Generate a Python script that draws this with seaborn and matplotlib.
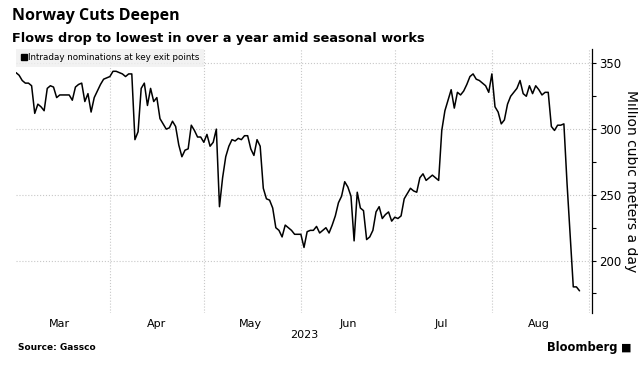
import pandas as pd
import matplotlib.pyplot as plt
import matplotlib.dates as mdates
from matplotlib.ticker import MultipleLocator
from matplotlib.lines import Line2D
import seaborn as sns

# Daily intraday nominations at key exit points (mcm/d)
start_date = "2023-03-02"
flows = [
    343, 341, 337, 335, 335, 333, 312, 319, 317, 314, 331, 333, 332, 324, 326,
    326, 326, 326, 322, 332, 334, 335, 321, 327, 313, 324, 329, 334, 338, 339,
    340, 344, 344, 343, 342, 340, 342,
    342, 292, 298, 331, 335, 318, 331, 321, 324, 308, 304, 300, 301, 306, 302,
    288, 279, 284, 285, 303, 299, 294, 294, 290, 296, 287, 290, 300, 241, 263,
    279, 287, 292, 291, 293, 292, 295, 295,
    285, 280, 292, 287, 255, 247, 246, 240, 225, 223, 218, 227, 225, 223, 220,
    220, 220, 210, 222, 223, 223, 226, 221, 223, 225, 221, 227, 234, 244, 249,
    260, 256, 249, 215,
    252, 240, 238, 216, 218, 223, 237, 241, 232, 235, 237, 230, 233, 232, 234,
    247, 251, 255, 253, 252, 263, 266, 261, 263, 265, 263, 261, 299, 314, 322,
    330, 316, 328, 326, 329, 334, 340, 342, 338,
    337, 335, 333, 328, 342, 317, 313, 304, 307, 319, 325, 328, 331, 337, 327,
    325, 333, 327, 333, 330, 326, 328, 328, 302, 299, 303, 303, 304, 259, 220,
    180, 180, 177,
]
series_label = "Intraday nominations at key exit points"
y_ticks = [200, 250, 300, 350]

df = pd.DataFrame({
    "date": pd.date_range(start_date, periods=len(flows), freq="D"),
    "flow": flows,
})

sns.set_theme(style="white")
plt.rcParams["font.family"] = ["DejaVu Sans"]
plt.rcParams["text.color"] = "black"
plt.rcParams["axes.labelcolor"] = "black"
plt.rcParams["xtick.color"] = "black"
plt.rcParams["ytick.color"] = "black"

fig = plt.figure(figsize=(6.38, 3.68), dpi=100)
ax = fig.add_axes([0.025, 0.149, 0.903, 0.718])

sns.lineplot(data=df, x="date", y="flow", color="black", linewidth=1.1, ax=ax)

# axes limits and ticks
ax.set_xlim(pd.Timestamp("2023-03-02"), pd.Timestamp("2023-09-02"))
ax.set_ylim(160, 361)
ax.yaxis.tick_right()
ax.yaxis.set_label_position("right")
ax.set_yticks(y_ticks)
ax.yaxis.set_minor_locator(MultipleLocator(25))
ax.tick_params(axis="y", which="both", direction="out", length=3, width=0.8,
               color="black", labelsize=8.5, pad=2, left=False, right=True)
ax.set_ylabel("Million cubic meters a day", rotation=-90, labelpad=12, fontsize=10)

ax.xaxis.set_major_locator(mdates.MonthLocator())
ax.xaxis.set_major_formatter(plt.NullFormatter())
ax.xaxis.set_minor_locator(mdates.MonthLocator(bymonthday=16))
ax.xaxis.set_minor_formatter(mdates.DateFormatter("%b"))
ax.tick_params(axis="x", which="both", length=0, labelsize=8, pad=4)
ax.set_xlabel("2023", fontsize=8, labelpad=1)

ax.grid(True, which="major", color="#c8c8c8", linestyle=":", linewidth=0.8)
for side in ["left", "top", "bottom"]:
    ax.spines[side].set_visible(False)
ax.spines["right"].set_color("black")
ax.spines["right"].set_linewidth(0.9)

# legend with a square marker
handle = Line2D([], [], marker="s", color="black", linestyle="none", markersize=4.5)
leg = ax.legend([handle], [series_label], loc="upper left", fontsize=6.3,
                frameon=True, fancybox=False, handletextpad=0.1,
                borderaxespad=0.0, borderpad=0.5, handlelength=0.8)
leg.get_frame().set_facecolor("#efefef")
leg.get_frame().set_edgecolor("none")

# titles and footer
fig.text(0.019, 0.978, "Norway Cuts Deepen", fontsize=11.5, fontweight="bold",
         family=["Open Sans", "DejaVu Sans"], va="top", ha="left")
fig.text(0.019, 0.912, "Flows drop to lowest in over a year amid seasonal works",
         fontsize=9.3, fontweight="bold", va="top", ha="left")
fig.text(0.028, 0.055, "Source: Gassco", fontsize=6.5, fontweight="bold",
         va="center", ha="left")
fig.text(0.968, 0.055, "Bloomberg", fontsize=8.3, fontweight="bold",
         va="center", ha="right")
fig.text(0.99, 0.055, "\u25a0", fontsize=8, va="center", ha="right")

fig.savefig("out.png", dpi=100)
